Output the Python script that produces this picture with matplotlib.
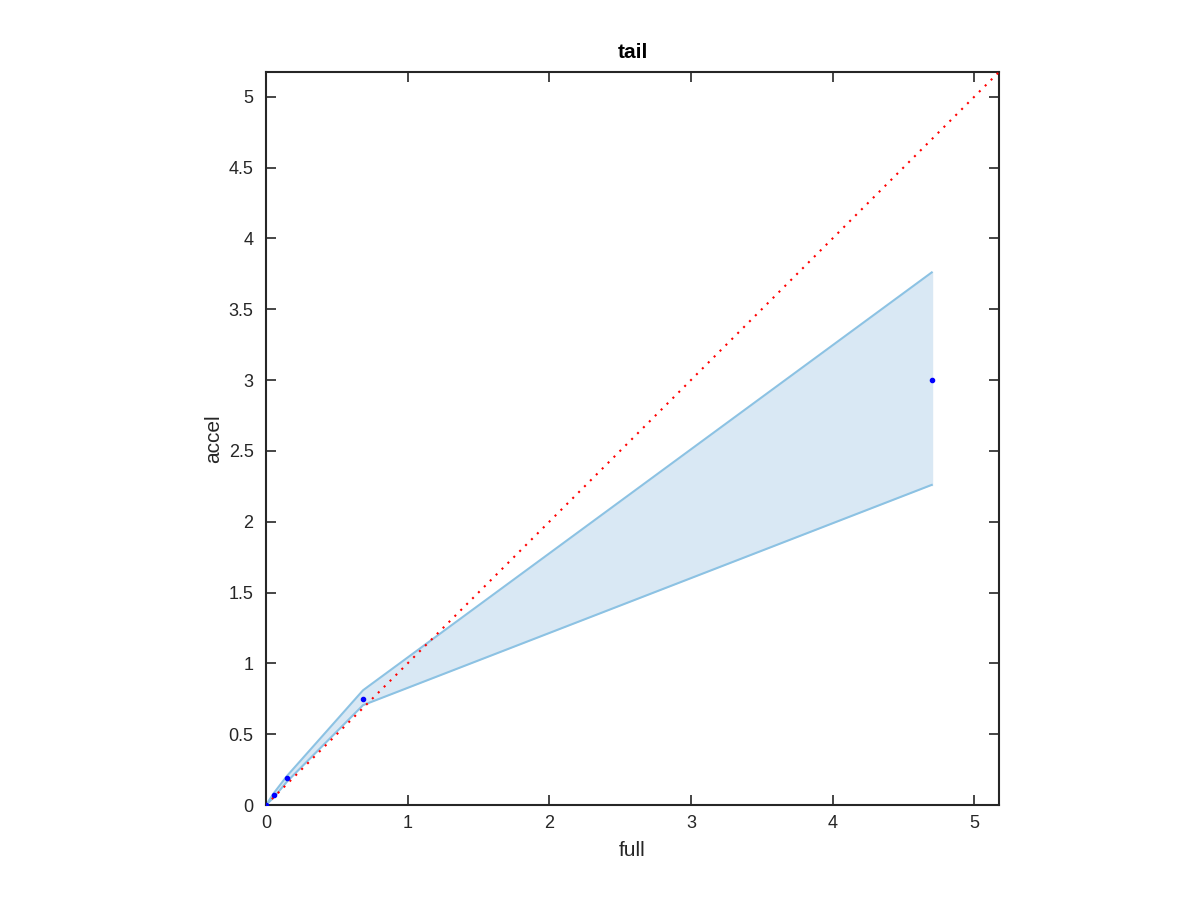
import matplotlib
matplotlib.use("Agg")
import matplotlib.pyplot as plt
import numpy as np

# data
full = [0.0, 0.056, 0.148, 0.685, 4.70]
accel = [0.0, 0.07, 0.19, 0.75, 3.0]
upper = [0.0, 0.085, 0.205, 0.81, 3.76]
lower = [0.0, 0.055, 0.165, 0.705, 2.26]
lim = 5.175

plt.rcParams['font.family'] = ['Liberation Sans', 'DejaVu Sans']

fig = plt.figure(figsize=(12, 9), dpi=100)
ax = fig.add_axes([266/1200, 95/900, 733/1200, 733/900])

ax.fill_between(full, lower, upper, color='#d9e8f4', lw=0, zorder=1)
ax.plot(full, upper, color='#8cc2e3', lw=1.5, zorder=2)
ax.plot(full, lower, color='#8cc2e3', lw=1.5, zorder=2)
ax.plot([full[-1], full[-1]], [lower[-1], upper[-1]], color='#d9e8f4', lw=1, zorder=1)
ax.plot([0, lim], [0, lim], color='red', ls=(0, (1, 3)), lw=1.5, zorder=3)
ax.plot(full, accel, ls='none', marker='o', ms=3, color='blue', zorder=4)

ax.set_xlim(0, lim)
ax.set_ylim(0, lim)
ax.set_xticks([0, 1, 2, 3, 4, 5])
ax.set_yticks(np.arange(0, 5.01, 0.5))
ax.set_yticklabels(['0', '0.5', '1', '1.5', '2', '2.5', '3', '3.5', '4', '4.5', '5'])
ax.tick_params(direction='in', top=True, right=True, length=7, width=1.2,
               labelsize=13, colors='#262626')
ax.tick_params(axis='x', pad=7)
ax.tick_params(axis='y', pad=9)
for s in ax.spines.values():
    s.set_linewidth(1.5)
    s.set_color('#262626')

ax.set_xlabel('full', fontsize=15, color='#262626', labelpad=7)
ax.set_ylabel('accel', fontsize=15, color='#262626', labelpad=4)
ax.set_title('tail', fontsize=15, fontweight='bold', pad=10)

fig.savefig('out.png', dpi=100)
